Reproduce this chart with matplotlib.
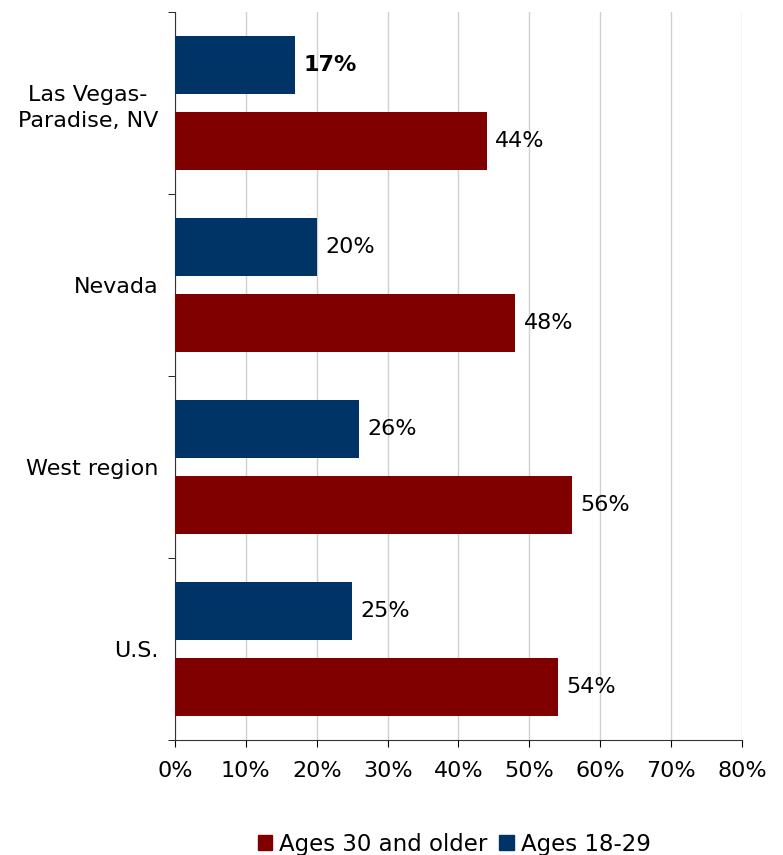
import matplotlib.pyplot as plt
from matplotlib.patches import Patch

regions = ['Las Vegas-\nParadise, NV', 'Nevada', 'West region', 'U.S.']
young = [17, 20, 26, 25]
older = [44, 48, 56, 54]
young_label = 'Ages 18-29'
older_label = 'Ages 30 and older'

blue = '#003366'
red = '#800000'

plt.rcParams['font.family'] = ['DejaVu Sans']
fs = 16

fig = plt.figure(figsize=(7.83, 8.55), dpi=100)
ax = fig.add_axes([0.2235, 0.1345, 0.7241, 0.8515])

pos = list(range(len(regions)))
ax.barh([p - 0.21 for p in pos], young, height=0.32, color=blue, zorder=3)
ax.barh([p + 0.21 for p in pos], older, height=0.32, color=red, zorder=3)

for i, (y, o) in enumerate(zip(young, older)):
    ax.text(y + 1.2, i - 0.21, f'{y}%', va='center', ha='left', fontsize=fs,
            fontweight='bold' if i == 0 else 'normal')
    ax.text(o + 1.2, i + 0.21, f'{o}%', va='center', ha='left', fontsize=fs)

ax.set_xlim(0, 80)
ax.set_ylim(3.5, -0.5)
ax.set_xticks(range(0, 81, 10))
ax.set_xticklabels([f'{v}%' for v in range(0, 81, 10)], fontsize=fs)
ax.set_yticks(pos)
ax.set_yticklabels(regions, fontsize=fs, linespacing=1.4)
for lab in ax.get_yticklabels():
    lab.set_multialignment('center')
ax.set_yticks([p - 0.5 for p in range(len(regions) + 1)], minor=True)
ax.tick_params(axis='y', which='major', length=0, pad=12)
ax.tick_params(axis='y', which='minor', length=5, direction='out')
ax.tick_params(axis='x', length=5, direction='out', pad=10)

ax.grid(axis='x', color='#d0d0d0', linewidth=1, zorder=0)
for s in ['top', 'right']:
    ax.spines[s].set_visible(False)
ax.spines['left'].set_color('#333333')
ax.spines['bottom'].set_color('#333333')

handles = [Patch(color=red), Patch(color=blue)]
fig.legend(handles, [older_label, young_label], loc='lower center',
           bbox_to_anchor=(0.58, -0.025), ncol=2, frameon=False, fontsize=16.5,
           handlelength=0.65, handleheight=0.65, handletextpad=0.3, columnspacing=0.5)

fig.savefig('out.png', dpi=100)
